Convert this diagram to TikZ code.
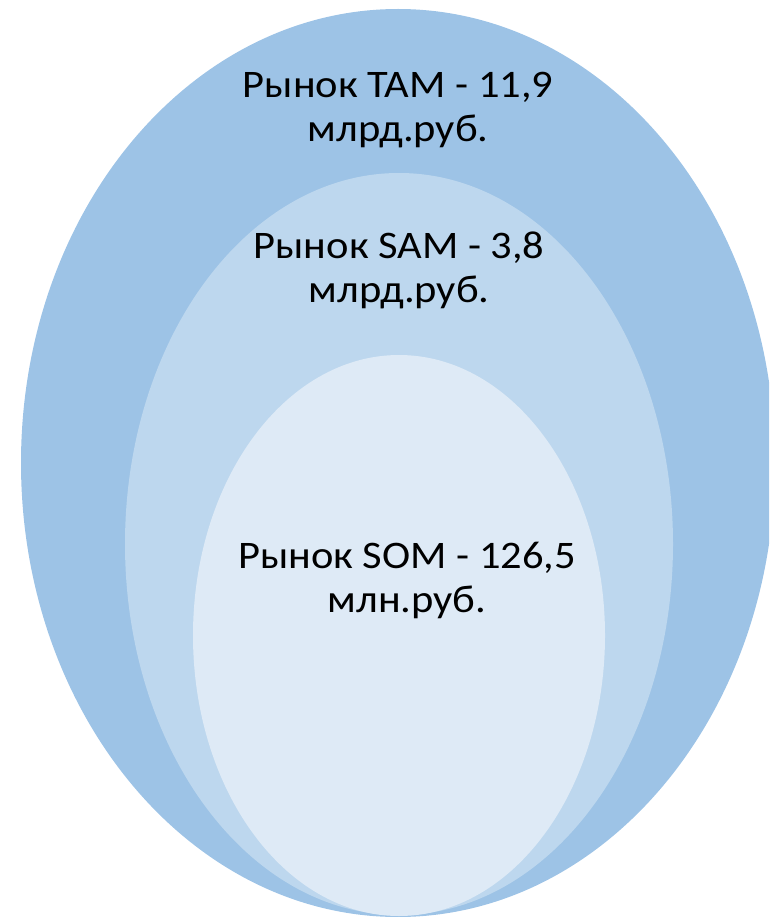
\documentclass[tikz,border=0pt]{standalone}
\usepackage{fontspec}
\setmainfont{Carlito}[FakeStretch=1.09]
\usetikzlibrary{positioning}

\begin{document}
\begin{tikzpicture}[x=1pt, y=-1pt,
                          marketlabel/.style={align=center, anchor=base, text=black, font=\fontsize{39}{44}\selectfont},
                      ]
                      % Frame
                      \useasboundingbox (0,0) rectangle (769,917);
                      \clip (0,0) rectangle (769,917);

                      % Ellipses
                      \fill[fill={rgb,255:red,157;green,195;blue,230}] (398,463) ellipse [x radius=377, y radius=454];
                      \fill[fill={rgb,255:red,189;green,215;blue,238}] (399,544) ellipse [x radius=274, y radius=371];
                      \fill[fill={rgb,255:red,222;green,234;blue,246}] (399,635.5) ellipse [x radius=206, y radius=280.5];

                      % Labels (anchored on the baseline of the second line)
                      \node[marketlabel] (tam) at (398,142) {Рынок TAM - 11,9\\млрд.руб.};
                      \node[marketlabel] (sam) at (399,302) {Рынок SAM - 3,8\\млрд.руб.};
                      \node[marketlabel] (som) at (407,612) {Рынок SOM - 126,5\\млн.руб.};
                  \end{tikzpicture}
\end{document}
